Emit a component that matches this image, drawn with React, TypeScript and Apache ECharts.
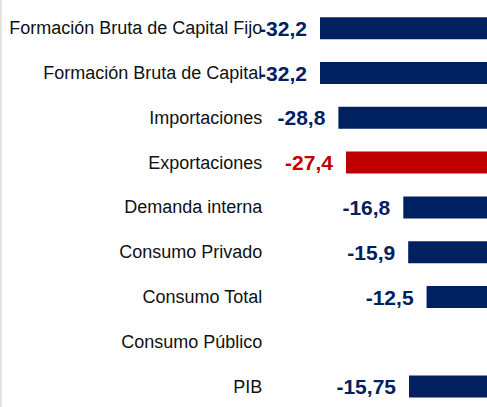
import React, { useEffect, useRef } from "react";
import * as echarts from "echarts";

const categories = [
  "Formación Bruta de Capital Fijo",
  "Formación Bruta de Capital",
  "Importaciones",
  "Exportaciones",
  "Demanda interna",
  "Consumo Privado",
  "Consumo Total",
  "Consumo Público",
  "PIB",
];

const values: (number | null)[] = [-32.2, -32.2, -28.8, -27.4, -16.8, -15.9, -12.5, null, -15.75];

const highlighted = ["Exportaciones"];

const NAVY = "#002060";
const RED = "#C00000";

export default function App() {
  const ref = useRef<HTMLDivElement>(null);

  useEffect(() => {
    if (!ref.current) return;
    const chart = echarts.init(ref.current, null, { renderer: "svg" });
    const data = categories.map((c, i) => {
      const color = highlighted.includes(c) ? RED : NAVY;
      return {
        value: values[i] === null ? "-" : values[i],
        itemStyle: { color },
        label: { color },
      };
    });
    chart.setOption({
      animation: false,
      backgroundColor: "#ffffff",
      textStyle: { fontFamily: "Liberation Sans, Arial, sans-serif" },
      grid: {
        left: 277.8,
        right: -7.2,
        top: 5.8,
        bottom: -2,
        containLabel: false,
        outerBoundsMode: "none",
      },
      xAxis: {
        type: "value",
        min: -40,
        max: 0,
        show: false,
        splitLine: { show: false },
      },
      yAxis: {
        type: "category",
        data: categories,
        inverse: true,
        axisLine: { show: false, onZero: false },
        axisTick: { show: false },
        axisLabel: {
          margin: 15.5,
          fontSize: 18,
          color: "#111111",
          fontFamily: "Liberation Sans, Arial, sans-serif",
        },
      },
      graphic: [
        {
          type: "line",
          shape: { x1: 1, y1: 0, x2: 1, y2: 407 },
          style: { stroke: "#d9d9d9", lineWidth: 1.5 },
          silent: true,
        },
      ],
      series: [
        {
          type: "bar",
          data,
          barWidth: 22,
          label: {
            show: true,
            position: "left",
            distance: 13,
            fontSize: 21,
            fontWeight: "bold",
            fontFamily: "Liberation Sans, Arial, sans-serif",
            formatter: (p: any) => String(p.value).replace(".", ","),
          },
        },
      ],
    });
    return () => chart.dispose();
  }, []);

  return (
    <div
      ref={ref}
      style={{ position: "absolute", left: 0, top: 0, width: 487, height: 407 }}
    />
  );
}
